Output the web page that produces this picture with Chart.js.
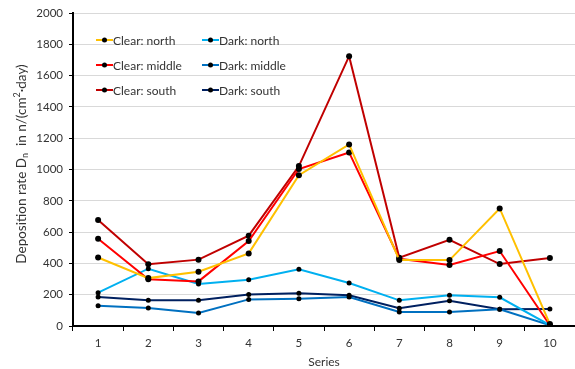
<!DOCTYPE html>
<html>
<head>
<meta charset="utf-8">
<script src="https://cdn.jsdelivr.net/npm/chart.js@4/dist/chart.umd.min.js"></script>
<style>
  html, body { margin: 0; padding: 0; background: #fff; overflow: hidden; }
  #wrap { width: 575px; height: 369px; overflow: hidden; }
</style>
</head>
<body>
<div id="wrap"><canvas id="myChart" width="578" height="369"></canvas></div>
<script>
var categories = ['1', '2', '3', '4', '5', '6', '7', '8', '9', '10'];

var clearNorth  = [438, 306, 347, 464, 964, 1160, 421, 421, 751, 12];
var clearMiddle = [558, 298, 285, 543, 1003, 1109, 430, 390, 479, 5];
var clearSouth  = [677, 394, 424, 577, 1022, 1724, 436, 551, 396, 434];
var darkNorth   = [213, 366, 268, 296, 362, 275, 164, 196, 183, 5];
var darkMiddle  = [130, 115, 83, 170, 174, 185, 89, 89, 107, 5];
var darkSouth   = [185, 164, 164, 202, 209, 196, 113, 162, 107, 109];

var FONT = 'Lato, "Open Sans", sans-serif';
var TXT = '#333333';

function series(label, data, color, r) {
    return {
        label: label,
        data: data,
        borderColor: color,
        backgroundColor: color,
        borderWidth: 2,
        pointRadius: r,
        pointHoverRadius: r,
        pointBackgroundColor: '#000',
        pointBorderWidth: 0,
        tension: 0
    };
}

// legend drawn inside the plot, two columns
var legendInside = {
    id: 'legendInside',
    afterDraw: function (chart) {
        var ctx = chart.ctx;
        var cols = [96, 202];
        var rows = [40, 65, 90];
        ctx.save();
        ctx.font = '12px ' + FONT;
        ctx.textBaseline = 'middle';
        ctx.fillStyle = TXT;
        chart.data.datasets.forEach(function (ds, i) {
            var x = cols[ds.legCol];
            var y = rows[ds.legRow];
            ctx.strokeStyle = ds.borderColor;
            ctx.lineWidth = 2;
            ctx.beginPath();
            ctx.moveTo(x, y);
            ctx.lineTo(x + 17, y);
            ctx.stroke();
            ctx.fillStyle = '#000';
            ctx.beginPath();
            ctx.arc(x + 8.5, y, 2.5, 0, Math.PI * 2);
            ctx.fill();
            ctx.fillStyle = TXT;
            ctx.fillText(ds.label, x + 17, y + 1);
        });
        ctx.restore();
    }
};

// y axis title with subscript / superscript
var yTitle = {
    id: 'yTitle',
    afterDraw: function (chart) {
        var ctx = chart.ctx;
        var parts = [
            { t: 'Deposition rate D', f: 13.5, dy: 0 },
            { t: 'n', f: 9, dy: 3.5 },
            { t: '  in n/(cm', f: 13.5, dy: 0 },
            { t: '2', f: 9, dy: -4.5 },
            { t: '\u00b7day)', f: 13.5, dy: 0 }
        ];
        ctx.save();
        var total = 0;
        parts.forEach(function (p) {
            ctx.font = p.f + 'px ' + FONT;
            p.w = ctx.measureText(p.t).width;
            total += p.w;
        });
        ctx.translate(22, 164);
        ctx.rotate(-Math.PI / 2);
        ctx.fillStyle = TXT;
        ctx.textBaseline = 'middle';
        var x = -total / 2;
        parts.forEach(function (p) {
            ctx.font = p.f + 'px ' + FONT;
            ctx.fillText(p.t, x, p.dy);
            x += p.w;
        });
        ctx.restore();
    }
};

var datasets = [
    series('Clear: north', clearNorth, '#FFC000', 3),
    series('Clear: middle', clearMiddle, '#FF0000', 3),
    series('Dark: north', darkNorth, '#00B0F0', 2.5),
    series('Dark: middle', darkMiddle, '#0070C0', 2.5),
    series('Dark: south', darkSouth, '#002060', 2.5),
    series('Clear: south', clearSouth, '#C00000', 3)
];
var legPos = {
    'Clear: north': [0, 0], 'Dark: north': [1, 0],
    'Clear: middle': [0, 1], 'Dark: middle': [1, 1],
    'Clear: south': [0, 2], 'Dark: south': [1, 2]
};
datasets.forEach(function (ds) {
    ds.legCol = legPos[ds.label][0];
    ds.legRow = legPos[ds.label][1];
});

var ctx = document.getElementById('myChart').getContext('2d');

new Chart(ctx, {
    type: 'line',
    data: { labels: categories, datasets: datasets },
    plugins: [legendInside, yTitle],
    options: {
        responsive: false,
        animation: false,
        events: [],
        layout: { padding: { left: 0, right: 0, top: 13, bottom: 0 } },
        plugins: {
            legend: { display: false },
            tooltip: { enabled: false }
        },
        scales: {
            x: {
                offset: true,
                grid: {
                    offset: true,
                    drawOnChartArea: false,
                    tickLength: 5,
                    tickColor: '#000'
                },
                border: { color: '#000', width: 2 },
                ticks: { color: TXT, font: { family: FONT, size: 11.5 }, padding: 5 },
                title: {
                    display: true,
                    text: 'Series',
                    color: TXT,
                    font: { family: FONT, size: 12 },
                    padding: { top: 0, bottom: 0 }
                },
                afterFit: function (scale) { scale.height = 43; }
            },
            y: {
                min: 0,
                max: 2000,
                ticks: {
                    stepSize: 100,
                    color: TXT,
                    font: { family: FONT, size: 11.5 },
                    padding: 6,
                    callback: function (v) { return v % 200 === 0 ? v : ''; }
                },
                grid: {
                    color: function (c) { return c.tick && c.tick.value % 200 === 0 ? '#d9d9d9' : 'rgba(0,0,0,0)'; },
                    tickColor: '#000',
                    tickLength: 4
                },
                border: { color: '#000', width: 2 },
                afterFit: function (scale) { scale.width = 73; }
            }
        }
    }
});
</script>
</body>
</html>
